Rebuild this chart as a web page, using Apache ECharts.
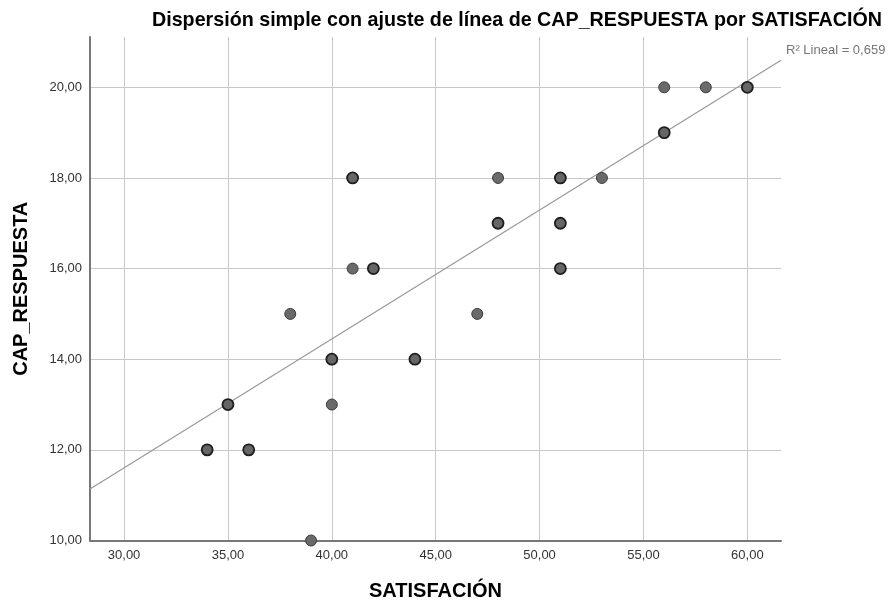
<!DOCTYPE html>
<html>
<head>
<meta charset="utf-8">
<script src="https://cdn.jsdelivr.net/npm/echarts@6/dist/echarts.min.js"></script>
<style>html,body{margin:0;padding:0;background:#fff;overflow:hidden}#c{width:888px;height:601px}</style>
</head>
<body>
<div id="c"></div>
<script>
// Data
const satisfacion   = [34, 35, 36, 38, 39, 40, 40, 41, 41, 42, 44, 47, 48, 48, 51, 51, 51, 53, 56, 56, 58, 60];
const capRespuesta  = [12, 13, 12, 15, 10, 14, 13, 18, 16, 16, 14, 15, 18, 17, 18, 17, 16, 18, 20, 19, 20, 20];
const repeated      = [ 1,  1,  1,  0,  0,  1,  0,  1,  0,  1,  1,  0,  0,  1,  1,  1,  1,  0,  0,  1,  0,  1];
const xTicks = [30, 35, 40, 45, 50, 55, 60];
const yTicks = [10, 12, 14, 16, 18, 20];
const xRange = [28.36, 61.62];
const yRange = [10, 21.11];
const fitIntercept = 3.07;
const fitSlope = 0.2844;
const r2Label = 'R² Lineal = 0,659';

const fmt = v => v.toFixed(2).replace('.', ',');
const pts = satisfacion.map((x, i) => ({
  value: [x, capRespuesta[i]],
  itemStyle: repeated[i] ? {color: '#666', borderColor: '#1e1e1e', borderWidth: 1.8, opacity: 1}
                         : {color: '#6a6a6a', borderColor: '#3c3c3c', borderWidth: 1, opacity: 1}
}));
const fitLine = xRange.map(x => [x, fitIntercept + fitSlope * x]);

const chart = echarts.init(document.getElementById('c'), null, {renderer: 'canvas', width: 888, height: 601});
const font = 'Liberation Sans, Arial, sans-serif';
chart.setOption({
  animation: false,
  title: {
    text: 'Dispersión simple con ajuste de línea de CAP_RESPUESTA por SATISFACIÓN',
    left: 512, top: 6, textAlign: 'center',
    textStyle: {fontFamily: font, fontSize: 19.7, fontWeight: 'bold', color: '#000'}
  },
  grid: {left: 90, right: 107, top: 37, bottom: 60.5, containLabel: false, outerBoundsMode: 'none'},
  xAxis: {
    type: 'value', min: xRange[0], max: xRange[1],
    name: 'SATISFACIÓN', nameLocation: 'middle', nameGap: 41,
    nameTextStyle: {fontFamily: font, fontSize: 20, fontWeight: 'bold', color: '#000'},
    axisLine: {show: true, onZero: false, lineStyle: {color: '#777', width: 2}},
    axisTick: {show: false, customValues: xTicks},
    axisLabel: {customValues: xTicks, formatter: fmt, fontFamily: font, fontSize: 13, color: '#333', margin: 8},
    splitLine: {show: true, lineStyle: {color: '#c8c8c8', width: 1}}
  },
  yAxis: {
    type: 'value', min: yRange[0], max: yRange[1],
    name: 'CAP_RESPUESTA', nameLocation: 'middle', nameGap: 59, nameRotate: 90,
    nameTextStyle: {fontFamily: font, fontSize: 20, fontWeight: 'bold', color: '#000'},
    axisLine: {show: true, onZero: false, lineStyle: {color: '#777', width: 2}},
    axisTick: {show: false, customValues: yTicks},
    axisLabel: {customValues: yTicks, formatter: fmt, fontFamily: font, fontSize: 13, color: '#333', margin: 8},
    splitLine: {show: true, lineStyle: {color: '#c8c8c8', width: 1}}
  },
  series: [
    {
      type: 'line', data: fitLine, symbol: 'none', silent: true,
      lineStyle: {color: '#999', width: 1.2}, z: 2
    },
    {
      type: 'scatter', data: pts, symbol: 'circle', symbolSize: 11, z: 3
    }
  ],
  graphic: [{
    type: 'text', left: 786, top: 44,
    style: {text: r2Label, fontFamily: font, fontSize: 13, fill: '#777'}
  }]
});
</script>
</body>
</html>
